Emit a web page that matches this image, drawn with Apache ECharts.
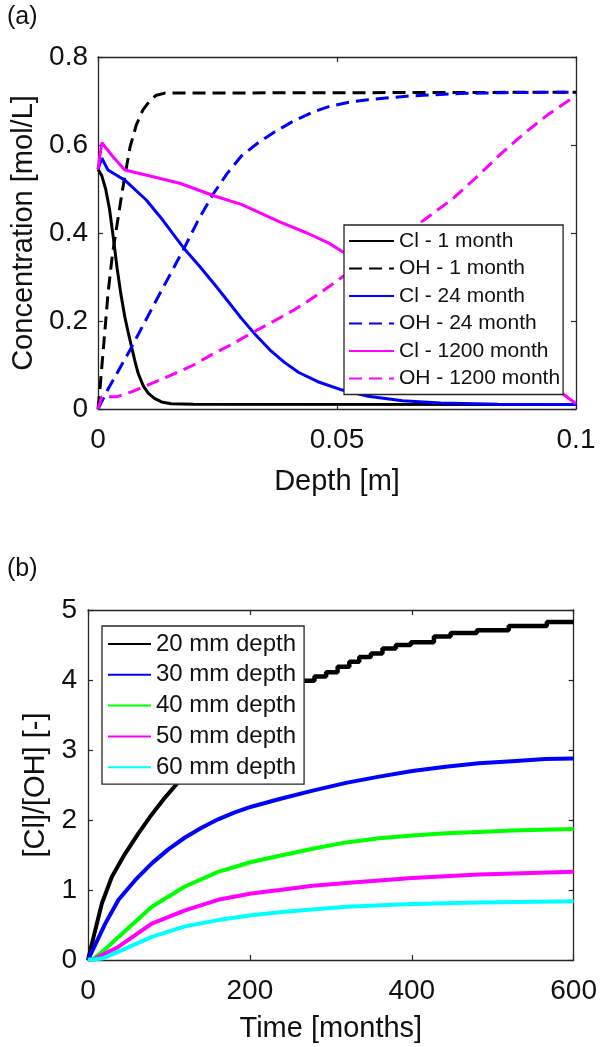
<!DOCTYPE html>
<html><head><meta charset="utf-8">
<script src="https://cdn.jsdelivr.net/npm/echarts@6/dist/echarts.min.js"></script>
<style>html,body{margin:0;padding:0;background:#fff}#c{width:600px;height:1047px}</style>
</head><body><div id="c"></div>
<script>
// ---------- Panel (a): concentration vs depth ----------
const depthTicks = [0, 0.05, 0.1];
const concTicks = [0, 0.2, 0.4, 0.6, 0.8];
const clOneMonth = [[0,0.545],[0.0008,0.53],[0.0016,0.50],[0.0024,0.455],[0.0032,0.39],[0.004,0.32],[0.0048,0.26],[0.0056,0.21],[0.0063,0.175],[0.007,0.142],[0.0077,0.11],[0.0084,0.081],[0.0095,0.052],[0.0105,0.036],[0.0118,0.024],[0.0133,0.016],[0.0153,0.012],[0.02,0.011],[0.1,0.01]];
const ohOneMonth = [[0,0],[0.0004,0.045],[0.0011,0.134],[0.0021,0.263],[0.003,0.35],[0.004,0.42],[0.005,0.49],[0.0058,0.54],[0.0067,0.595],[0.008,0.645],[0.0094,0.68],[0.011,0.703],[0.0122,0.713],[0.014,0.718],[0.1,0.72]];
const clTwentyFour = [[0,0.545],[0.0008,0.57],[0.0021,0.543],[0.0056,0.52],[0.0101,0.475],[0.0135,0.43],[0.0164,0.388],[0.018,0.365],[0.0212,0.325],[0.0244,0.283],[0.0271,0.246],[0.03,0.206],[0.033,0.168],[0.036,0.134],[0.039,0.106],[0.042,0.083],[0.046,0.062],[0.0511,0.043],[0.0565,0.029],[0.0637,0.019],[0.0717,0.0136],[0.0837,0.011],[0.1,0.01]];
const ohTwentyFour = [[0,0],[0.002,0.043],[0.0067,0.134],[0.0115,0.233],[0.0153,0.31],[0.018,0.365],[0.021,0.43],[0.024,0.487],[0.027,0.535],[0.03,0.575],[0.0335,0.605],[0.037,0.63],[0.0405,0.652],[0.045,0.675],[0.0485,0.688],[0.0525,0.697],[0.0565,0.703],[0.0645,0.711],[0.0757,0.717],[0.085,0.719],[0.1,0.72]];
const clTwelveHundred = [[0,0.545],[0.0008,0.605],[0.003,0.575],[0.0056,0.543],[0.01,0.532],[0.0171,0.513],[0.0247,0.483],[0.03,0.465],[0.0379,0.426],[0.0437,0.40],[0.0483,0.377],[0.0511,0.358],[0.06,0.296],[0.07,0.228],[0.08,0.16],[0.09,0.092],[0.0963,0.042],[0.1,0.012]];
const ohTwelveHundred = [[0,0],[0.0008,0.028],[0.004,0.028],[0.007,0.039],[0.011,0.057],[0.0153,0.077],[0.02,0.1],[0.0237,0.123],[0.028,0.147],[0.032,0.172],[0.036,0.195],[0.041,0.225],[0.046,0.26],[0.0511,0.30],[0.056,0.336],[0.062,0.382],[0.068,0.428],[0.074,0.476],[0.079,0.525],[0.084,0.577],[0.089,0.625],[0.094,0.668],[0.1,0.712]];
const namesA = ['Cl - 1 month','OH - 1 month','Cl - 24 month','OH - 24 month','Cl - 1200 month','OH - 1200 month'];

// ---------- Panel (b): ratio vs time ----------
const timeTicks = [0, 200, 400, 600];
const ratioTicks = [0, 1, 2, 3, 4, 5];
const depth20 = [[0,0],[9,0.43],[17.2,0.81],[29.5,1.19],[45.9,1.52],[62.3,1.81],[78.8,2.08],[95.1,2.32],[111.5,2.54],[130,2.78],[150,3.01],[175,3.27],[200,3.5],[225,3.7],[250,3.88],[263.4,3.99]];
const depth20Steps = [[263.4,3.99],[279.8,4.05],[294.2,4.11],[308.4,4.19],[322.8,4.26],[335.1,4.33],[349.5,4.38],[363.8,4.45],[380.3,4.50],[398.8,4.54],[427.4,4.62],[448,4.67],[480.4,4.71],[519.8,4.77],[566.9,4.83],[600,4.83]];
const depth30 = [[0,0],[21.3,0.52],[37.7,0.86],[58.2,1.14],[78.8,1.38],[99.2,1.58],[119.8,1.75],[140.3,1.89],[160.7,2.01],[181.3,2.11],[201.8,2.19],[236.7,2.3],[277.7,2.42],[318.8,2.53],[359.8,2.62],[400.7,2.7],[441.8,2.76],[482.8,2.81],[523.8,2.84],[564.9,2.87],[600,2.88]];
const depth40 = [[0,0],[6.9,0.02],[20,0.14],[37.7,0.33],[78.8,0.76],[119.8,1.05],[160.7,1.26],[201.8,1.4],[236.7,1.49],[277.7,1.59],[318.8,1.68],[359.8,1.74],[400.7,1.78],[441.8,1.81],[482.8,1.83],[523.8,1.85],[600,1.87]];
const depth50 = [[0,0],[9,0.02],[37.7,0.19],[78.8,0.52],[119.8,0.71],[160.7,0.86],[201.8,0.95],[236.7,1.0],[277.7,1.06],[318.8,1.1],[400.7,1.17],[482.8,1.22],[600,1.26]];
const depth60 = [[0,0],[17.2,0.02],[37.7,0.12],[78.8,0.33],[119.8,0.48],[160.7,0.57],[201.8,0.64],[242.8,0.69],[318.8,0.76],[400.7,0.8],[482.8,0.82],[600,0.84]];
const namesB = ['20 mm depth','30 mm depth','40 mm depth','50 mm depth','60 mm depth'];

const FONT = 'Liberation Sans, Arial, sans-serif';
const AX = '#262626';

function axis(gridIndex, ticks, position, opts) {
  const a = {
    type: 'value', gridIndex, position,
    min: ticks[0], max: ticks[ticks.length - 1], interval: ticks[1] - ticks[0],
    axisLine: { show: true, onZero: false, lineStyle: { color: AX, width: 1.3 } },
    axisTick: { show: true, inside: true, length: 5, lineStyle: { color: AX, width: 1.2 } },
    splitLine: { show: false },
    axisLabel: { show: !!opts.label, fontSize: 28, color: '#111', fontFamily: FONT, margin: opts.margin || 10 },
  };
  if (opts.name) {
    a.name = opts.name; a.nameLocation = 'middle'; a.nameGap = opts.nameGap;
    a.nameTextStyle = { fontSize: 29, color: '#111', fontFamily: FONT };
  }
  return a;
}

function line(name, data, color, width, xi, yi, dashed, extra) {
  return Object.assign({
    type: 'line', name, data, xAxisIndex: xi, yAxisIndex: yi,
    symbol: 'none', showSymbol: false, smooth: false, animation: false,
    lineStyle: { color, width, type: dashed ? [13, 7] : 'solid' },
    itemStyle: { color }
  }, extra || {});
}

const legendCommon = {
  orient: 'vertical', backgroundColor: '#fff', borderColor: AX, borderWidth: 1.3, borderRadius: 0,
  selectedMode: false, itemHeight: 14,
  itemStyle: { opacity: 0, borderWidth: 0 }
};

const chart = echarts.init(document.getElementById('c'), null, { renderer: 'canvas' });
chart.setOption({
  backgroundColor: '#fff',
  animation: false,
  graphic: [
    { type: 'text', left: 7, top: 5, style: { text: '(a)', fontSize: 25, fontFamily: FONT, fill: '#111' } },
    { type: 'text', left: 7, top: 557, style: { text: '(b)', fontSize: 25, fontFamily: FONT, fill: '#111' } }
  ],
  grid: [
    { left: 98, top: 57, width: 478, height: 352 },
    { left: 88, top: 610, width: 488, height: 350 }
  ],
  xAxis: [
    axis(0, depthTicks, 'bottom', { label: true, margin: 17, name: 'Depth [m]', nameGap: 58 }),
    axis(0, depthTicks, 'top', {}),
    axis(1, timeTicks, 'bottom', { label: true, margin: 17, name: 'Time [months]', nameGap: 54 }),
    axis(1, timeTicks, 'top', {})
  ],
  yAxis: [
    axis(0, concTicks, 'left', { label: true, margin: 10, name: 'Concentration [mol/L]', nameGap: 52 }),
    axis(0, concTicks, 'right', {}),
    axis(1, ratioTicks, 'left', { label: true, margin: 11, name: '[Cl]/[OH] [-]', nameGap: 27 }),
    axis(1, ratioTicks, 'right', {})
  ],
  legend: [
    Object.assign({}, legendCommon, {
      data: namesA, left: 344, top: 225,
      padding: [5, 3, 5, 4], itemWidth: 45, itemGap: 5.5,
      textStyle: { fontSize: 21, lineHeight: 22, color: '#111', fontFamily: FONT }
    }),
    Object.assign({}, legendCommon, {
      data: namesB, left: 102, top: 626,
      padding: [5, 8, 4, 5], itemWidth: 43, itemGap: 4.8,
      textStyle: { fontSize: 24, lineHeight: 26, color: '#111', fontFamily: FONT }
    })
  ],
  series: [
    line(namesA[0], clOneMonth, '#000000', 3, 0, 0, false),
    line(namesA[1], ohOneMonth, '#000000', 3, 0, 0, true),
    line(namesA[2], clTwentyFour, '#0000ff', 3, 0, 0, false),
    line(namesA[3], ohTwentyFour, '#0000ff', 3, 0, 0, true),
    line(namesA[4], clTwelveHundred, '#ff00ff', 3, 0, 0, false),
    line(namesA[5], ohTwelveHundred, '#ff00ff', 3, 0, 0, true),
    line(namesB[0], depth20, '#000000', 4, 2, 2, false),
    line(namesB[0], depth20Steps, '#000000', 4.5, 2, 2, false, { step: 'end' }),
    line(namesB[1], depth30, '#0000ff', 4, 2, 2, false),
    line(namesB[2], depth40, '#00ff00', 4, 2, 2, false),
    line(namesB[3], depth50, '#ff00ff', 4, 2, 2, false),
    line(namesB[4], depth60, '#00ffff', 4, 2, 2, false)
  ]
});
</script>
</body></html>
